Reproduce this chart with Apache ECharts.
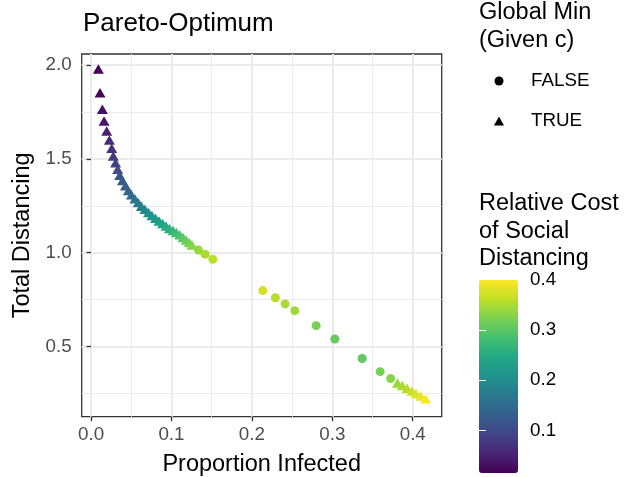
<!DOCTYPE html>
<html>
<head>
<meta charset="utf-8">
<script src="https://cdn.jsdelivr.net/npm/echarts@6/dist/echarts.min.js"></script>
<style>
  html, body { margin: 0; padding: 0; background: #fff; }
  #chart { width: 627px; height: 477px; }
</style>
</head>
<body>
<div id="chart"></div>
<script>
// global minimum (triangles), upper-left branch
const upperX = [0.0091, 0.0112, 0.0141, 0.0162, 0.0195, 0.0228, 0.0257, 0.0277, 0.0305, 0.0331, 0.0356,
  0.0391, 0.0428, 0.0464, 0.0502, 0.0545, 0.0586, 0.0626, 0.0670, 0.0715, 0.0757, 0.0802, 0.0846,
  0.0889, 0.0932, 0.0975, 0.1020, 0.1060, 0.1103, 0.1144, 0.1183, 0.1221, 0.1256];
const upperY = [1.979, 1.852, 1.764, 1.702, 1.648, 1.600, 1.556, 1.515, 1.479, 1.444, 1.412,
  1.384, 1.357, 1.331, 1.308, 1.287, 1.267, 1.248, 1.231, 1.214, 1.198, 1.183, 1.169,
  1.156, 1.142, 1.129, 1.118, 1.107, 1.095, 1.081, 1.067, 1.054, 1.041];
const upperC = [0.015, 0.02, 0.03, 0.04, 0.05, 0.06, 0.07, 0.08, 0.09, 0.10, 0.11,
  0.12, 0.13, 0.14, 0.15, 0.16, 0.17, 0.18, 0.19, 0.20, 0.21, 0.22, 0.23,
  0.24, 0.25, 0.26, 0.27, 0.28, 0.29, 0.30, 0.31, 0.32, 0.33];

// global minimum (triangles), lower-right branch
const lowerX = [0.381, 0.387, 0.393, 0.399, 0.404, 0.410, 0.416];
const lowerY = [0.306, 0.292, 0.278, 0.263, 0.250, 0.236, 0.221];
const lowerC = [0.34, 0.35, 0.36, 0.37, 0.38, 0.39, 0.40];

// not the global minimum (circles)
const localX = [0.1335, 0.1418, 0.1514, 0.2136, 0.2292, 0.2413, 0.2534, 0.2799, 0.3031, 0.3371, 0.3595, 0.3725];
const localY = [1.014, 0.992, 0.965, 0.798, 0.760, 0.727, 0.691, 0.611, 0.540, 0.436, 0.366, 0.329];
const localC = [0.34, 0.35, 0.36, 0.375, 0.36, 0.35, 0.345, 0.32, 0.31, 0.305, 0.32, 0.33];

const xTicks = [0, 0.1, 0.2, 0.3, 0.4];
const xMinor = [0.05, 0.15, 0.25, 0.35];
const yTicks = [0.5, 1.0, 1.5, 2.0];
const yMinor = [0.25, 0.75, 1.25, 1.75];
const costTicks = [0.1, 0.2, 0.3, 0.4];
const costMin = 0.015;
const costMax = 0.4;

const viridis = ['#440154', '#482475', '#414487', '#355f8d', '#2a788e', '#21918c',
  '#22a884', '#44bf70', '#7ad151', '#bddf26', '#fde725'];

const FONT = 'Liberation Sans';
const zip = (xs, ys, cs) => xs.map((x, i) => [x, ys[i], cs[i]]);

const chart = echarts.init(document.getElementById('chart'), null, { renderer: 'canvas' });

chart.setOption({
  backgroundColor: '#fff',
  animation: false,
  textStyle: { fontFamily: FONT },
  title: [
    { text: 'Pareto-Optimum', left: 83, top: 11, padding: 0,
      textStyle: { fontSize: 26, fontWeight: 'normal', color: '#000', fontFamily: FONT } },
    { text: 'Global Min\n(Given c)', left: 479, top: -1, padding: 0,
      textStyle: { fontSize: 23.5, lineHeight: 28, fontWeight: 'normal', color: '#000', fontFamily: FONT } },
    { text: 'Relative Cost\nof Social\nDistancing', left: 479, top: 190, padding: 0,
      textStyle: { fontSize: 23.5, lineHeight: 27.5, fontWeight: 'normal', color: '#000', fontFamily: FONT } },
  ],
  legend: {
    orient: 'vertical',
    left: 494, top: 71, padding: 0,
    itemWidth: 10, itemHeight: 9, itemGap: 20,
    selectedMode: false,
    itemStyle: { color: '#000', opacity: 1 },
    textStyle: { fontSize: 18.8, color: '#000', lineHeight: 20, fontFamily: FONT, padding: [0, 0, 0, 22] },
    data: [{ name: 'FALSE', icon: 'circle' }, { name: 'TRUE', icon: 'triangle' }],
  },
  visualMap: {
    type: 'continuous',
    dimension: 2,
    seriesIndex: [0, 1],
    min: costMin, max: costMax,
    calculable: false, hoverLink: false,
    left: 479, top: 280, padding: 0,
    itemWidth: 39, itemHeight: 193,
    text: null, showLabel: false,
    inRange: { color: viridis },
  },
  grid: [
    { left: 81.7, top: 54, right: 185.3, bottom: 60.3, show: true, outerBoundsMode: 'none',
      borderColor: '#333', borderWidth: 1.3, backgroundColor: '#fff' },
    { left: 479, top: 280, width: 39, height: 193, show: false, outerBoundsMode: 'none' },
  ],
  xAxis: [
    {
      type: 'value', gridIndex: 0, position: 'bottom', min: -0.0116, max: 0.436,
      name: 'Proportion Infected', nameLocation: 'middle', nameGap: 36,
      nameTextStyle: { fontSize: 23.5, color: '#000', fontFamily: FONT },
      axisLine: { show: false },
      axisTick: { show: true, length: 4.5, customValues: xTicks, lineStyle: { color: '#333', width: 1.3 } },
      axisLabel: { customValues: xTicks, margin: 9, fontSize: 18.8, color: '#4d4d4d',
        formatter: v => v.toFixed(1) },
      splitLine: { show: true, lineStyle: { color: '#ebebeb', width: 2 } },
    },
    {
      type: 'value', gridIndex: 0, position: 'top', min: -0.0116, max: 0.436,
      axisLine: { show: false },
      axisTick: { show: false, customValues: xMinor },
      axisLabel: { show: false },
      splitLine: { show: true, lineStyle: { color: '#ebebeb', width: 1 } },
    },
    {
      type: 'value', gridIndex: 1, show: false,
    },
  ],
  yAxis: [
    {
      type: 'value', gridIndex: 0, position: 'left', min: 0.126, max: 2.0586,
      name: 'Total Distancing', nameLocation: 'middle', nameGap: 46,
      nameTextStyle: { fontSize: 23.5, color: '#000', fontFamily: FONT },
      axisLine: { show: false },
      axisTick: { show: true, length: 4.5, customValues: yTicks, lineStyle: { color: '#333', width: 1.3 } },
      axisLabel: { customValues: yTicks, margin: 10, fontSize: 18.8, color: '#4d4d4d',
        formatter: v => v.toFixed(1) },
      splitLine: { show: true, lineStyle: { color: '#ebebeb', width: 2 } },
    },
    {
      type: 'value', gridIndex: 0, position: 'right', min: 0.126, max: 2.0586,
      axisLine: { show: false },
      axisTick: { show: false, customValues: yMinor },
      axisLabel: { show: false },
      splitLine: { show: true, lineStyle: { color: '#ebebeb', width: 1 } },
    },
    {
      type: 'value', gridIndex: 1, position: 'right', min: costMin, max: costMax, z: 10,
      axisLine: { show: false },
      axisTick: { show: true, inside: true, length: 7, customValues: [0.1, 0.2, 0.3],
        lineStyle: { color: '#fff', width: 1 } },
      axisLabel: { customValues: costTicks, margin: 12, fontSize: 18.8, color: '#000',
        formatter: v => v.toFixed(1) },
      splitLine: { show: false },
    },
    {
      type: 'value', gridIndex: 1, position: 'left', min: costMin, max: costMax, z: 10,
      axisLine: { show: false },
      axisTick: { show: true, inside: true, length: 7, customValues: [0.1, 0.2, 0.3],
        lineStyle: { color: '#fff', width: 1 } },
      axisLabel: { show: false },
      splitLine: { show: false },
    },
  ],
  series: [
    {
      name: 'FALSE', type: 'scatter', xAxisIndex: 0, yAxisIndex: 0,
      symbol: 'circle', symbolSize: 9,
      itemStyle: { opacity: 1 },
      data: zip(localX, localY, localC),
    },
    {
      name: 'TRUE', type: 'scatter', xAxisIndex: 0, yAxisIndex: 0,
      symbol: 'triangle', symbolSize: [11, 9.5],
      itemStyle: { opacity: 1 },
      data: zip(upperX, upperY, upperC).concat(zip(lowerX, lowerY, lowerC)),
    },
  ],
});
</script>
</body>
</html>
